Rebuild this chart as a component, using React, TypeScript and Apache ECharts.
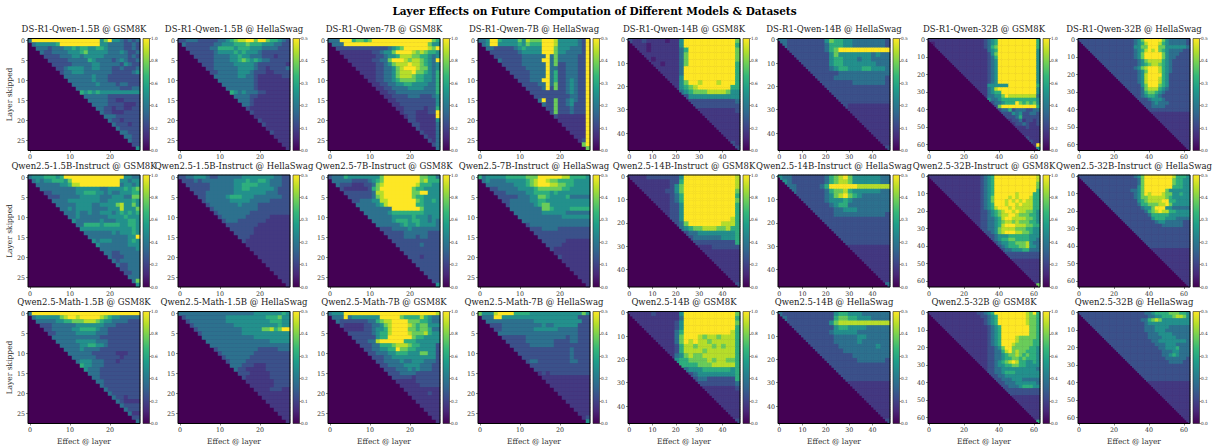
import React, { useEffect, useRef } from "react";
import * as echarts from "echarts";

const mainTitle = "Layer Effects on Future Computation of Different Models & Datasets";
const modelRows = [
  ["DS-R1-Qwen-1.5B", "DS-R1-Qwen-7B", "DS-R1-Qwen-14B", "DS-R1-Qwen-32B"],
  ["Qwen2.5-1.5B-Instruct", "Qwen2.5-7B-Instruct", "Qwen2.5-14B-Instruct", "Qwen2.5-32B-Instruct"],
  ["Qwen2.5-Math-1.5B", "Qwen2.5-Math-7B", "Qwen2.5-14B", "Qwen2.5-32B"],
];
const datasets = ["GSM8K", "HellaSwag"];
const colorMax = [1.0, 0.5];
const layerCounts = [28, 28, 48, 64];
const viridis = ["#440154", "#482878", "#3e4989", "#31688e", "#26828e", "#1f9e89", "#35b779", "#6ece58", "#b5de2b", "#fde725"];
const levelShare = [0, 0.09, 0.17, 0.25, 0.37, 0.5, 0.63, 0.77, 0.89, 1];

// Each char is a level 0-9 (see levelShare), one per layer (28) or per two layers (48, 64).
const r1a = [
"4999999999999999995795543434",
" 455555699999999995544443343",
"  44434445565665566544443343",
"   4334444555675555544454334",
"    333344455455555444444343",
"     33333444446544443454334",
"      3333344444554444435433",
"       334555544554443343334",
"        34455544444443333345",
"         4444444544433333333",
"          444444544433333333",
"           44444454444344333",
"            4444444444433344",
"             656565555555555",
"              44444433333333",
"               4444433223333",
"                444433332223",
"                 44332332233",
"                  4332223333",
"                   444333333",
"                    43323333",
"                     4333233",
"                      433333",
"                       44333",
"                        4433",
"                         433",
"                          33",
"                           5"];
const r1b = [
"3344433333445678899799766543",
" 433333334455566676665554433",
"  33333344666656665554444333",
"   3333334555565655543333333",
"    333334444556554443332333",
"     33334444556765654433333",
"      3334444455555433333332",
"       334444445555433233334",
"        33444445554333223333",
"         4444445544322222233",
"          444444444322222222",
"           44444444322222222",
"            4444444322222222",
"             654544433222222",
"              44443322222222",
"               4443222222222",
"                443222222222",
"                 32222222222",
"                  3222222222",
"                   222222222",
"                    32222222",
"                     3222222",
"                      222222",
"                       32222",
"                        2222",
"                         222",
"                          22",
"                           2"];
const r7a = [
"4449996776799999999999999976",
" 44499999999999999999999975",
"  33333333333334567999999879",
"   2222222233455799998787665",
"    222222223345568887766545",
"     22222233447999878876549",
"      2222223345788898876545",
"       222223344578999877545",
"        22223344578889776546",
"         2223344578887665546",
"          223344567777665546",
"           22334455665555446",
"            2233444455554446",
"             223344444444446",
"              22333344433345",
"               2233333333335",
"                223333333335",
"                 22333332336",
"                  2333222339",
"                   233222229",
"                    33222225",
"                     3322224",
"                      322224",
"                       32224",
"                        3224",
"                         324",
"                          34",
"                           4"];
const r7b = [
"4459965555758777999855555439",
" 459955555657666999855555439",
"  44333334565555999755544439",
"   3333333455555999755444439",
"    333333344444494744444339",
"     43333344444994744444339",
"      3333344444494733444339",
"       333334444494433444339",
"        33333444494633444339",
"         3333444494633444339",
"          333444994633454339",
"           33334494733454339",
"            3333493733454339",
"             333333333454339",
"              33333333344339",
"               4933733454339",
"                433733453339",
"                 33733343339",
"                  3733343339",
"                   322222229",
"                    22222229",
"                     2222229",
"                      222229",
"                       22229",
"                        2229",
"                         239",
"                          79",
"                           7"];
const r14a = [
"322322221225999999999997",
" 22212222225999999999996",
"  2212222224699999999997",
"   222222224799999999997",
"    21222224799999999997",
"     2212224799999999996",
"      222224999999999996",
"       22224999999999996",
"        2225999999999996",
"         225799899989996",
"          25678999999966",
"           4567778888755",
"            355555555555",
"             33333333334",
"              3333333333",
"               222222223",
"                22222222",
"                 2222222",
"                  222222",
"                   22222",
"                    2222",
"                     222",
"                      32",
"                       3"];
const r14b = [
"443333333357665544444443",
" 43333333346665544444443",
"  3333333346799999999999",
"   333333335755555554544",
"    33333335665554554444",
"     3333335665555555444",
"      333334566555665554",
"       33333344444444444",
"        3333444444444443",
"         333333344444443",
"          33333333333333",
"           3333333333333",
"            333333333333",
"             33333333333",
"              3222222222",
"               222222222",
"                22222222",
"                 2222222",
"                  222222",
"                   22222",
"                    2222",
"                     222",
"                      22",
"                       3"];
const r32a = [
"22222222222222223456999999999996",
" 1222222222222223456999999999996",
"  222222222222223467999999999996",
"   22222222222222456999999999995",
"    2222222222222357999999999995",
"     222222222222346999999999995",
"      22222222222345999999999995",
"       2222222222345999999999995",
"        222222222345999999999995",
"         22222222345999999999995",
"          2222222345999999999995",
"           222222345999999999995",
"            22222345999999999995",
"             2222555555999999996",
"              222458999999999995",
"               22456699999999995",
"                2445579888888884",
"                 544566666666665",
"                  34456669767675",
"                   3799999999996",
"                    344634443344",
"                     33354533443",
"                      3334633333",
"                       233423323",
"                        23343223",
"                         2223222",
"                          222222",
"                           22222",
"                            3222",
"                             322",
"                              29",
"                               5"];
const r32b = [
"33333333333333334579999975444443",
" 3333333333333334568999865444443",
"  333333333333335577999775555554",
"   33333333333334568989765444433",
"    3333333333334579999975444333",
"     333333333334579999975443333",
"      33333333333457888865433333",
"       3333333333456788765433333",
"        333333334578999865433333",
"         33333333457999865433333",
"          3333333458999965333333",
"           333333458999865333333",
"            33333458999865333333",
"             3333357999765333333",
"              333347888654333333",
"               33346776543333333",
"                3345665433333333",
"                 333455543333333",
"                  33345444333333",
"                   3344443333333",
"                    333333333333",
"                     22222222222",
"                      2222222222",
"                       222222222",
"                        22222222",
"                         2222222",
"                          222222",
"                           22222",
"                            2222",
"                             222",
"                              22",
"                               2"];
const q1a = [
"4555666569999999999999995544",
" 45455666579999999999995545",
"  44444455688999999999945545",
"   4444444445555554455556567",
"    33444444556665545445556",
"     3334444455555444555447",
"      4444555555554455555565",
"       444445555445555785575",
"        44545555444455585557",
"         4445445445554565656",
"          445444444455556555",
"           54444445444555665",
"            4466665666655665",
"             555555555555565",
"              44444445455565",
"               4444444444559",
"                545554444565",
"                 54444444555",
"                  4444444445",
"                   443344444",
"                    43334444",
"                     4344444",
"                      433444",
"                       33444",
"                        3344",
"                         444",
"                          47",
"                           5"];
const q1b = [
"3344555433444444555555554433",
" 33343444444445556556654443",
"  3333334444445566665554443",
"   333334444445566555555433",
"    33344444445555555544433",
"     3344444566655544444443",
"      344444455555444443333",
"       34444444544443333333",
"        3444444444443333333",
"         344444444333333333",
"          34444443333332222",
"           3444333333322222",
"            333333332222222",
"             33333322222222",
"              3333322222222",
"               333222222222",
"                32222222222",
"                 2222222222",
"                  222222222",
"                   22222222",
"                    2222222",
"                     222222",
"                      22222",
"                       2222",
"                        222",
"                         22",
"                          22",
"                           2"];
const q7a = [
"3444655555555799999999977664",
" 44444333345679999999997866",
"  4333222334789999999986665",
"   32222223679999999976655",
"    3333333488999999977995",
"     333333478999999976655",
"      3344455889999999765565",
"       444445689999999665555",
"        44444444999999975555",
"         4444445666666665555",
"          444444555556555455",
"           44444566656655454",
"            4444445655655554",
"             33344445444444",
"              3333344444433",
"               333344434433",
"                33333333333",
"                 3333334333",
"                  333333333",
"                   33333333",
"                    3332333",
"                     333333",
"                      33333",
"                       3333",
"                        333",
"                         33",
"                          33",
"                           5"];
const q7b = [
"6455555666667779999998866665",
" 454444555556789987766665",
"  44444445556789998877665",
"   3344444555567777776655",
"    33344444556666565555",
"     3333344455776555564",
"      334444455665555555",
"       34444445677555555",
"        4444444477655556",
"         44444445555554",
"          444444444445",
"           444444444444",
"            34444444444",
"             333444433",
"              33333333",
"               3333333",
"                3333332",
"                 3333222",
"                  322222",
"                   222222",
"                    32222",
"                     2222",
"                      222",
"                       222",
"                        22",
"                         22",
"                          22",
"                           2"];
const q14a = [
"222233333335999999999998",
" 22222222336999999999998",
"  2222222357999999999998",
"   222223357999999999997",
"    22222346999999999996",
"     2222346999999999997",
"      222335999999999996",
"       22335999999999996",
"        2335999999999996",
"         335999999999986",
"          34799999998886",
"           4567788877866",
"            344555555556",
"             34444445556",
"              3333333336",
"               222333333",
"                22222222",
"                 2222222",
"                  222222",
"                   22222",
"                    2222",
"                     222",
"                      22",
"                       3"];
const q14b = [
"544333333346789755555544",
" 54333333346788755555544",
"  4433333469999998888888",
"   433333346778655555544",
"    33333345789765444444",
"     3333345556544444444",
"      333334566444444444",
"       33333445554444444",
"        3333444444444443",
"         333333333333333",
"          33333333333333",
"           3333333333333",
"            333333333333",
"             33333333333",
"              3333333333",
"               222222222",
"                22222222",
"                 2222222",
"                  222222",
"                   22222",
"                    2222",
"                     222",
"                      22",
"                       4"];
const q32a = [
"22222222222222234569999999999998",
" 2222222222222234569999999999998",
"  222222222222234569999999999997",
"   22222222222234569999999999997",
"    2222222222234569999999999996",
"     222222222234569999998999966",
"      22222222234579999898999866",
"       2222222234579998989898866",
"        222222234569998998988866",
"         22222234568999898888866",
"          2222233456789989887765",
"           222233456788998777665",
"            22233445689988887765",
"             2233445678878777665",
"              233445689998887766",
"               33445788887776655",
"                3345789998877655",
"                 334555666666555",
"                  34566776666554",
"                   3455667778544",
"                    345666778554",
"                     34455566444",
"                      3333333333",
"                       333333333",
"                        22222222",
"                         2222222",
"                          222222",
"                           22222",
"                            2222",
"                             222",
"                              22",
"                               7"];
const q32b = [
"33333333333333334579999999986665",
" 3333333333333333479999999976655",
"  333333333333333479999999976655",
"   33333333333333579999999966655",
"    3333333333344579999997555555",
"     333333333334579899987755655",
"      33333333334577888887655555",
"       3333333333567888899665555",
"        333333333466777889755555",
"         33333333345579995544444",
"          3333333334678988665555",
"           333333333466666555555",
"            33333333356665554444",
"             3333333334554444433",
"              333333333344444433",
"               33333333333333333",
"                3333333333333333",
"                 333333333333333",
"                  33333333333333",
"                   3333333333333",
"                    333333333333",
"                     22222222222",
"                      2222222222",
"                       222222222",
"                        22222222",
"                         2222222",
"                          222222",
"                           22222",
"                            2222",
"                             222",
"                              22",
"                               2"];
const m1a = [
"4999999999999999999999999999",
" 4555555789989999987655444",
"  444445566777888765544443",
"   33344444455555554443333",
"    3344444556666544333333",
"     3344444555554443333333",
"      444444444444333333333",
"       44444555554443333333",
"        4444455665543333333",
"         44445444433333333",
"          4444443333332223",
"           444444333333233",
"            45554443332333",
"             6554443333333",
"              544433333333",
"               44433333333",
"                4433333333",
"                 443333333",
"                  43333333",
"                   4333333",
"                    433333",
"                     43323",
"                      4322",
"                       433",
"                        43",
"                         42",
"                          33",
"                           4"];
const m1b = [
"4444444444444444444555555565",
" 34444444444555555555566675",
"  3444444444555555555556665",
"   344444444445555555555565",
"    34444444444455555778679",
"     3444444444455555555555",
"      444444444444455555555",
"       44444444444444445555",
"        4444444444444444444",
"         344444444443333344",
"          34444444433333333",
"           3444444333333333",
"            344443333333333",
"             44433322233333",
"              4332222233333",
"               333222223333",
"                32222223333",
"                 2222222333",
"                  222222333",
"                   22223332",
"                    2222222",
"                     222222",
"                      22222",
"                       2222",
"                        222",
"                         22",
"                          22",
"                           2"];
const m7a = [
"4555999999999999999999999998",
" 44494555555599999766668654",
"  4333333344678899997776654",
"   322222334457899998767755",
"    22222334556899997767764",
"     3333334566899998777865",
"      333333566999999766555",
"       33344899999966655555",
"        33344666788876655553",
"         3344556697766555553",
"          334445566655577553",
"           33344555555555553",
"            3344445445554443",
"             334444555544433",
"              33344454544433",
"               3334444333333",
"                333332333333",
"                 22222333333",
"                  2222233333",
"                   222222222",
"                    22222322",
"                     2222222",
"                      222222",
"                       22222",
"                        2222",
"                         222",
"                          22",
"                           2"];
const m7b = [
"7555899996666555555555555575",
" 4449955555555555555555553",
"  4444444444445555555555553",
"   33344444444445445555553",
"    3344444444555555444443",
"     444444444444444444443",
"      33333344444444443443",
"       3333344444443333443",
"        333334444443333333",
"         33333333333333433",
"          3333333333333433",
"           333333333333433",
"            34433333333443",
"             333333333333",
"              33333333333",
"               2323333333",
"                222222222",
"                 22222222",
"                  2222222",
"                   222222",
"                    22222",
"                     2222",
"                      222",
"                       22",
"                        22",
"                         22",
"                          23",
"                           5"];
const q14mA = [
"222223222225999999999997",
" 22222222224999999999996",
"  2222222235999999999997",
"   222222235999999999996",
"    22222246999999999986",
"     2222247999878878886",
"      222247989887888886",
"       22236887888787886",
"        2236888878888886",
"         245787788888886",
"          56677778788776",
"           6666777888886",
"            455566666656",
"             34555555556",
"              3443333336",
"               333333334",
"                22222223",
"                 2222222",
"                  222222",
"                   22222",
"                    2222",
"                     222",
"                      22",
"                       3"];
const q14mB = [
"433333333333566555444444",
" 43333333333677665554444",
"  3333333335788888888888",
"   333333333566555544444",
"    33333334555554444444",
"     3333333444445544444",
"      333333444445444444",
"       33333344444444544",
"        3333334444444444",
"         333333344444444",
"          33333334444443",
"           3333333333333",
"            333333333333",
"             33333333333",
"              3333333333",
"               222222222",
"                22222222",
"                 2222222",
"                  222222",
"                   22222",
"                    2222",
"                     222",
"                      22",
"                       3"];
const q32mA = [
"22222222222222334569999999998796",
" 2222222222222233456999999998776",
"  222222222222223456999999998776",
"   22222222222223456999999998776",
"    2222222222222345699999999776",
"     222222222222345699999999776",
"      22222222222345699999999776",
"       2222222222345699998777776",
"        222222222345699998777766",
"         22222222345699987777766",
"          2222222334579977777665",
"           222222334468978776665",
"            22222334456778767665",
"             2222334456677676665",
"              222334567898665565",
"               22334556677665555",
"                2334455555555554",
"                 334456665555555",
"                  33445555555555",
"                   3344455544444",
"                    334445555554",
"                     33444566655",
"                      3333333333",
"                       333333333",
"                        22222222",
"                         2222222",
"                          222222",
"                           22222",
"                            2222",
"                             222",
"                              22",
"                               6"];
const q32mB = [
"33333333333333333334456666777665",
" 3333333333333333333445566678875",
"  333333333333333344678755555555",
"   33333333333333334555555555555",
"    3333333333333334445555444444",
"     333333333333334445554444444",
"      33333333333333444555544444",
"       3333333333333444455554444",
"        333333333333344555555554",
"         33333333333334445554444",
"          3333333333333445556444",
"           333333333333344455444",
"            33333333333344565444",
"             3333333333334444443",
"              333333333333444433",
"               33333333333333333",
"                3333333333333333",
"                 333333333333333",
"                  33333333333333",
"                   3333333333333",
"                    222222222222",
"                     22222222222",
"                      2222222222",
"                       222222222",
"                        22222222",
"                         2222222",
"                          222222",
"                           22222",
"                            2222",
"                             222",
"                              22",
"                               2"];

const grids = [
  [[r1a, r1b], [r7a, r7b], [r14a, r14b], [r32a, r32b]],
  [[q1a, q1b], [q7a, q7b], [q14a, q14b], [q32a, q32b]],
  [[m1a, m1b], [m7a, m7b], [q14mA, q14mB], [q32mA, q32mB]],
];

const FONT = "DejaVu Serif";
const PANEL_W = 112;
const PANEL_H = 112;
const ROW_TOP = [38.5, 175, 311.5];
const COL_LEFT = 28;
const COL_STEP = 150;

function cells(rows: string[], n: number, vmax: number) {
  const step = n === 28 ? 1 : 2;
  const out: number[][] = [];
  for (let i = 0; i < n; i++) {
    const row = rows[Math.min(Math.floor(i / step), rows.length - 1)];
    for (let j = i; j < n; j++) {
      const b = Math.floor(j / step);
      const ch = b < row.length ? row[b] : row[row.length - 1];
      const level = ch === " " ? 2 : Number(ch);
      out.push([j, i, levelShare[level] * vmax]);
    }
  }
  return out;
}

function buildOption() {
  const grid: any[] = [], xAxis: any[] = [], yAxis: any[] = [], heat: any[] = [], bars: any[] = [];
  const title: any[] = [{
    text: mainTitle, left: 594.5, top: 5, textAlign: "center", padding: 0,
    textStyle: { fontFamily: FONT, fontSize: 10.5, fontWeight: "bold", color: "#000" },
  }];
  const graphic: any[] = [];
  const seriesByMax: number[][] = [[], []];
  const stops = viridis.map((c, i) => ({ offset: i / (viridis.length - 1), color: c }));
  let idx = 0;
  const tickText = { fontFamily: FONT, color: "#333" };
  modelRows.forEach((models, r) => {
    models.forEach((model, m) => {
      datasets.forEach((ds, d) => {
        const n = layerCounts[m];
        const vmax = colorMax[d];
        const left = COL_LEFT + COL_STEP * (m * 2 + d);
        const top = ROW_TOP[r];
        const xEvery = n === 64 ? 20 : 10;
        const yEvery = n === 28 ? 5 : 10;
        const cats = Array.from({ length: n }, (_, i) => String(i));
        grid.push({ left, top, width: PANEL_W, height: PANEL_H, show: true, backgroundColor: "#440154", borderWidth: 0 });
        const g = grid.length - 1;
        const xShow = (i: number) => i % xEvery === 0;
        const yShow = (i: number) => i % yEvery === 0;
        xAxis.push({
          type: "category", gridIndex: g, data: cats, position: "bottom",
          name: r === 2 ? "Effect @ layer" : "", nameLocation: "middle", nameGap: 14,
          nameTextStyle: { fontFamily: FONT, fontSize: 7.5, color: "#333" },
          axisLine: { show: false, onZero: false },
          axisTick: { show: true, length: 2, alignWithLabel: true, interval: xShow, lineStyle: { color: "#333", width: 0.6 } },
          axisLabel: { ...tickText, fontSize: 6.3, margin: 3, interval: xShow, hideOverlap: false },
          splitLine: { show: false },
        });
        yAxis.push({
          type: "category", gridIndex: g, data: cats, inverse: true, position: "left",
          name: m === 0 && d === 0 ? "Layer skipped" : "", nameLocation: "middle", nameGap: 11.5,
          nameTextStyle: { fontFamily: FONT, fontSize: 7.5, color: "#333" },
          axisLine: { show: false, onZero: false },
          axisTick: { show: true, length: 2, alignWithLabel: true, interval: yShow, lineStyle: { color: "#333", width: 0.6 } },
          axisLabel: { ...tickText, fontSize: 6.3, margin: 3, interval: yShow, hideOverlap: false },
          splitLine: { show: false },
        });
        heat.push({
          type: "heatmap", xAxisIndex: g, yAxisIndex: g, data: cells(grids[r][m][d], n, vmax),
          silent: true, progressive: 0, emphasis: { disabled: true }, itemStyle: { borderWidth: 0 },
        });
        seriesByMax[d].push(idx);
        idx++;
        title.push({
          text: `${model} @ ${ds}`, left: left + PANEL_W / 2, top: top - 14, textAlign: "center", padding: 0,
          textStyle: { fontFamily: FONT, fontSize: 8.5, fontWeight: "normal", color: "#222" },
        });
        graphic.push({ type: "rect", z: 100, silent: true, shape: { x: left, y: top, width: PANEL_W, height: PANEL_H }, style: { fill: "none", stroke: "#000", lineWidth: 1 } });
        // colour bar
        const cbLeft = left + PANEL_W + 3;
        grid.push({ left: cbLeft, top, width: 6.5, height: PANEL_H, show: false });
        const cg = grid.length - 1;
        xAxis.push({ type: "category", gridIndex: cg, data: ["c"], show: false });
        yAxis.push({
          type: "value", gridIndex: cg, min: 0, max: vmax, interval: vmax / 5, position: "right",
          axisLine: { show: false }, splitLine: { show: false },
          axisTick: { show: true, length: 1.5, lineStyle: { color: "#333", width: 0.5 } },
          axisLabel: { ...tickText, fontSize: 4.3, margin: 1.5, formatter: (v: number) => v.toFixed(1) },
        });
        bars.push({
          type: "bar", xAxisIndex: cg, yAxisIndex: cg, data: [vmax], barWidth: "100%", silent: true,
          itemStyle: { color: { type: "linear", x: 0, y: 1, x2: 0, y2: 0, colorStops: stops } },
        });
        graphic.push({ type: "rect", z: 100, silent: true, shape: { x: cbLeft, y: top, width: 6.5, height: PANEL_H }, style: { fill: "none", stroke: "#222", lineWidth: 0.6 } });
      });
    });
  });
  const visualMap = [0, 1].map((d) => ({
    type: "continuous", show: false, min: 0, max: colorMax[d], seriesIndex: seriesByMax[d], dimension: 2,
    inRange: { color: viridis },
  }));
  return {
    animation: false, backgroundColor: "#fff", title, grid, xAxis, yAxis, visualMap,
    series: [...heat, ...bars], graphic: { elements: graphic }, tooltip: { show: false },
  };
}

export default function App() {
  const ref = useRef<HTMLDivElement>(null);
  useEffect(() => {
    const chart = echarts.init(ref.current!, undefined, { renderer: "svg" });
    chart.setOption(buildOption() as any);
    return () => chart.dispose();
  }, []);
  return <div ref={ref} style={{ position: "absolute", left: 0, top: 0, width: 1219, height: 447 }} />;
}
